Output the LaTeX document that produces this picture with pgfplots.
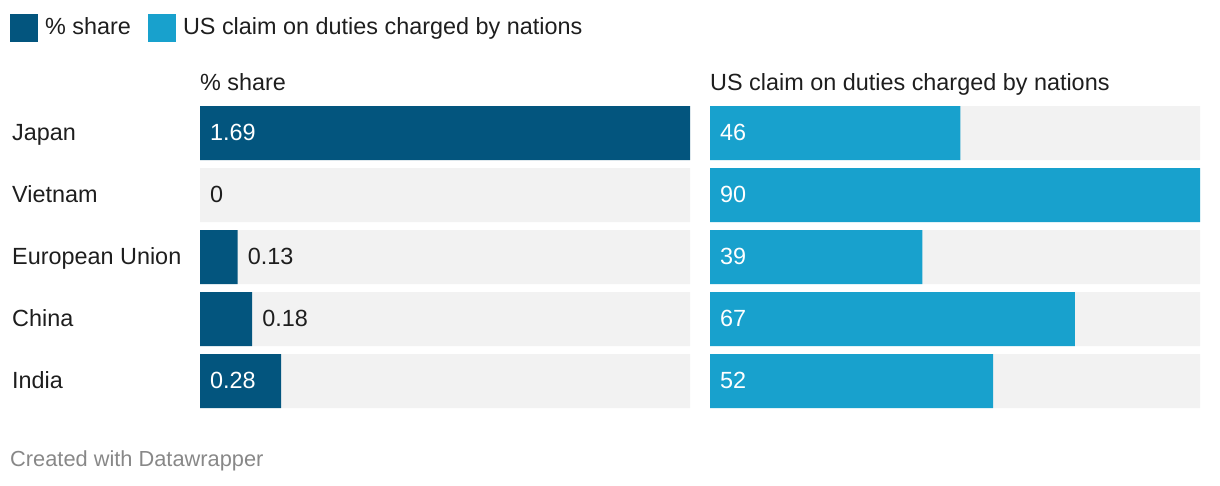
\documentclass[border=0pt]{standalone}
\usepackage{pgfplots}
\pgfplotsset{compat=1.18}
\usepackage{pgfplotstable}
\usepackage{fontspec}
\setmainfont{Liberation Sans}

\definecolor{share}{HTML}{03557E}
\definecolor{claim}{HTML}{18A1CD}
\definecolor{track}{HTML}{F2F2F2}
\definecolor{ink}{HTML}{1E1E1E}
\definecolor{foot}{HTML}{888888}

\newcommand{\txt}{\fontsize{23.4}{27}\selectfont}

% values
\pgfplotstableread{
y share claim
0 1.69  46
1 0     90
2 0.13  39
3 0.18  67
4 0.28  52
}\datatable

% value labels: x position of the label, text
\pgfplotstableread{
y lx lab
0 0 1.69
4 0 0.28
}\shareinside
\pgfplotstableread{
y lx lab
1 0    0
2 0.13 0.13
3 0.18 0.18
}\shareoutside
\pgfplotstableread{
y lx lab
0 0 46
1 0 90
2 0 39
3 0 67
4 0 52
}\claiminside

\pgfplotsset{
  panel/.style={
    scale only axis, width=490pt, height=302pt, anchor=north west,
    xmin=0, ymin=-0.4355, ymax=4.4355, y dir=reverse,
    axis line style={draw=none}, major tick length=0pt, xtick=\empty,
    clip=false,
    title style={at={(0,1)}, anchor=base west, yshift=10pt, inner sep=0pt,
      font=\txt, text=ink},
  },
  bars/.style={xbar, bar width=0.871, bar shift=0pt, draw=none, fill=#1,
    forget plot, x filter/.expression={x==0 ? nan : x}},
  vlabel/.style={draw=none, mark=none, forget plot, nodes near coords,
    point meta=explicit symbolic,
    every node near coord/.append style={anchor=base west, xshift=10pt,
      yshift=-7pt, inner sep=0pt, font=\txt, text=#1}},
}

\begin{document}
\begin{tikzpicture}
\path[use as bounding box] (0,0) rectangle (1220pt,-486pt);

\begin{axis}[panel, at={(200pt,-106pt)}, xmax=1.69,
  title={\% share},
  ytick={0,1,2,3,4},
  yticklabels={Japan,Vietnam,European Union,China,India},
  yticklabel style={anchor=base west, xshift=-188pt, yshift=-7pt,
    inner sep=0pt, font=\txt, text=ink},
  legend columns=2,
  legend image code/.code={\fill[#1] (0pt,-7.7pt) rectangle (28pt,20.3pt);},
  legend style={at={(-0.38776,1.30464)}, anchor=north west, draw=none,
    fill=none, inner sep=0pt, font=\txt, text=ink,
    nodes={inner sep=0pt, anchor=base west},
    /tikz/every odd column/.style={column sep=7pt},
    /tikz/every even column/.style={column sep=17pt}},
]
\addplot[bars=track] coordinates {(1.69,0) (1.69,1) (1.69,2) (1.69,3) (1.69,4)};
\addplot[bars=share] table[x=share, y=y] {\datatable};
\addplot[vlabel=white] table[x=lx, y=y, meta=lab] {\shareinside};
\addplot[vlabel=ink] table[x=lx, y=y, meta=lab] {\shareoutside};
\addlegendimage{fill=share, draw=none}
\addlegendentry{\% share}
\addlegendimage{fill=claim, draw=none}
\addlegendentry{US claim on duties charged by nations}
\end{axis}

\begin{axis}[panel, at={(710pt,-106pt)}, xmax=90, ytick=\empty,
  title={US claim on duties charged by nations},
]
\addplot[bars=track] coordinates {(90,0) (90,1) (90,2) (90,3) (90,4)};
\addplot[bars=claim] table[x=claim, y=y] {\datatable};
\addplot[vlabel=white] table[x=lx, y=y, meta=lab] {\claiminside};
\end{axis}

\node[anchor=base west, inner sep=0pt, font=\fontsize{21.8}{25}\selectfont,
  text=foot] at (10pt,-466pt) {Created with Datawrapper};
\end{tikzpicture}
\end{document}
